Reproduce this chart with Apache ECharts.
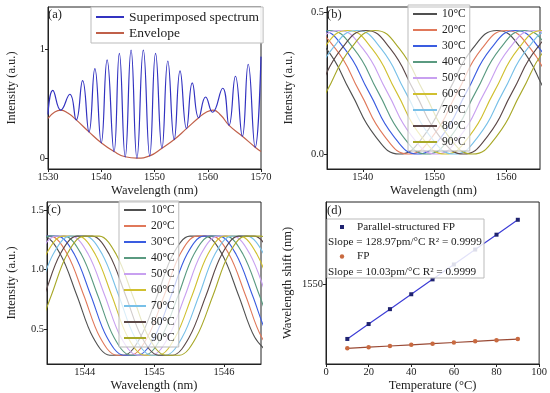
<!DOCTYPE html>
<html><head><meta charset="utf-8">
<script src="https://cdn.jsdelivr.net/npm/echarts@6/dist/echarts.min.js"></script>
<style>html,body{margin:0;padding:0;background:#fff}#c{width:550px;height:393px}</style>
</head><body><div id="c"></div>
<script>
const FONT = "'Liberation Serif','Times New Roman',serif";

// ---------- (a) superimposed spectrum & envelope: [wavelength nm, intensity a.u.]
const specA = [[1530.0,0.40],[1530.9,0.62],[1532.4,0.44],[1534.1,0.585],[1535.3,0.35],[1536.5,0.71],[1537.7,0.24],[1538.8,0.82],[1540.0,0.14],[1541.1,0.90],[1542.4,0.06],[1543.4,0.96],[1544.5,0.01],[1545.6,0.99],[1546.7,0.0],[1547.9,0.99],[1549.1,0.02],[1550.2,0.96],[1551.4,0.09],[1552.5,0.89],[1553.7,0.17],[1554.8,0.80],[1556.0,0.27],[1557.1,0.69],[1558.3,0.37],[1559.6,0.56],[1560.9,0.42],[1562.8,0.64],[1564.0,0.30],[1565.2,0.75],[1566.5,0.20],[1567.6,0.86],[1568.9,0.10],[1570.0,0.93]];
const envA = [[1530.0,0.365],[1531.2,0.42],[1532.4,0.44],[1533.8,0.41],[1535.3,0.35],[1537.7,0.24],[1540.0,0.14],[1542.4,0.06],[1544.5,0.012],[1546.7,0.0],[1549.1,0.02],[1551.4,0.09],[1553.7,0.17],[1556.0,0.27],[1558.3,0.37],[1559.7,0.42],[1561.0,0.44],[1562.5,0.39],[1564.0,0.30],[1566.5,0.20],[1568.9,0.10],[1570.0,0.06]];

// ---------- temperatures & colours
const tempNames = ['10°C','20°C','30°C','40°C','50°C','60°C','70°C','80°C','90°C'];
const tempColors = ['#505050','#e0785a','#3a5ce0','#5a9a80','#c8a0f0','#d0c030','#78c0e8','#5c4848','#a8a828'];

// ---------- (b) parallel-structured FP spectra (wavelengths per temperature, shared intensity levels)
const bIntensity = [0.064,0.218,0.371,0.435,0.371,0.218,0.064,0.0,0.064,0.218,0.371,0.435,0.371,0.218,0.064];
const bWl10 = [1521.30,1524.70,1528.10,1531.50,1534.90,1538.30,1541.70,1545.10,1548.50,1551.90,1555.30,1558.70,1562.10,1565.50,1568.90];
const bWl20 = [1522.58,1525.98,1529.38,1532.78,1536.18,1539.58,1542.98,1546.38,1549.78,1553.18,1556.58,1559.98,1563.38,1566.78,1570.18];
const bWl30 = [1523.85,1527.25,1530.65,1534.05,1537.45,1540.85,1544.25,1547.65,1551.05,1554.45,1557.85,1561.25,1564.65,1568.05,1571.45];
const bWl40 = [1525.13,1528.53,1531.93,1535.33,1538.73,1542.13,1545.53,1548.93,1552.33,1555.73,1559.13,1562.53,1565.93,1569.33,1572.73];
const bWl50 = [1526.40,1529.80,1533.20,1536.60,1540.00,1543.40,1546.80,1550.20,1553.60,1557.00,1560.40,1563.80,1567.20,1570.60,1574.00];
const bWl60 = [1527.68,1531.08,1534.48,1537.88,1541.28,1544.68,1548.08,1551.48,1554.88,1558.28,1561.68,1565.08,1568.48,1571.88,1575.28];
const bWl70 = [1528.95,1532.35,1535.75,1539.15,1542.55,1545.95,1549.35,1552.75,1556.15,1559.55,1562.95,1566.35,1569.75,1573.15,1576.55];
const bWl80 = [1530.23,1533.63,1537.03,1540.43,1543.83,1547.23,1550.63,1554.03,1557.43,1560.83,1564.23,1567.63,1571.03,1574.43,1577.83];
const bWl90 = [1531.50,1534.90,1538.30,1541.70,1545.10,1548.50,1551.90,1555.30,1558.70,1562.10,1565.50,1568.90,1572.30,1575.70,1579.10];

// ---------- (c) FP spectra
const cIntensity = [0.28,0.43,0.78,1.13,1.28,1.28,1.13,0.78,0.43,0.28,0.28,0.43,0.78,1.13,1.28,1.28,1.13,0.78,0.43,0.28];
const cWl10 = [1542.24,1542.48,1542.72,1542.95,1543.19,1543.41,1543.65,1543.89,1544.12,1544.36,1544.56,1544.80,1545.04,1545.27,1545.51,1545.73,1545.97,1546.21,1546.44,1546.68];
const cWl20 = [1542.34,1542.58,1542.82,1543.05,1543.29,1543.51,1543.75,1543.99,1544.22,1544.46,1544.66,1544.90,1545.14,1545.37,1545.61,1545.83,1546.07,1546.31,1546.54,1546.78];
const cWl30 = [1542.44,1542.68,1542.92,1543.15,1543.39,1543.61,1543.85,1544.09,1544.32,1544.56,1544.76,1545.00,1545.24,1545.47,1545.71,1545.93,1546.17,1546.41,1546.64,1546.88];
const cWl40 = [1542.54,1542.78,1543.02,1543.25,1543.49,1543.71,1543.95,1544.19,1544.42,1544.66,1544.86,1545.10,1545.34,1545.57,1545.81,1546.03,1546.27,1546.51,1546.74,1546.98];
const cWl50 = [1542.64,1542.88,1543.12,1543.35,1543.59,1543.81,1544.05,1544.29,1544.52,1544.76,1544.96,1545.20,1545.44,1545.67,1545.91,1546.13,1546.37,1546.61,1546.84,1547.08];
const cWl60 = [1542.74,1542.98,1543.22,1543.45,1543.69,1543.91,1544.15,1544.39,1544.62,1544.86,1545.06,1545.30,1545.54,1545.77,1546.01,1546.23,1546.47,1546.71,1546.94,1547.18];
const cWl70 = [1542.84,1543.08,1543.32,1543.55,1543.79,1544.01,1544.25,1544.49,1544.72,1544.96,1545.16,1545.40,1545.64,1545.87,1546.11,1546.33,1546.57,1546.81,1547.04,1547.28];
const cWl80 = [1542.94,1543.18,1543.42,1543.65,1543.89,1544.11,1544.35,1544.59,1544.82,1545.06,1545.26,1545.50,1545.74,1545.97,1546.21,1546.43,1546.67,1546.91,1547.14,1547.38];
const cWl90 = [1543.04,1543.28,1543.52,1543.75,1543.99,1544.21,1544.45,1544.69,1544.92,1545.16,1545.36,1545.60,1545.84,1546.07,1546.31,1546.53,1546.77,1547.01,1547.24,1547.48];

// ---------- (d) wavelength shift vs temperature
const dTemps = [10,20,30,40,50,60,70,80,90];
const dParallel = [1545.24,1546.53,1547.82,1549.11,1550.40,1551.69,1552.98,1554.27,1555.56];
const dFP = [1544.43,1544.53,1544.63,1544.73,1544.83,1544.93,1545.03,1545.13,1545.23];

// ---------- tick labels
const aXTicks = [1530,1540,1550,1560,1570], aYTicks = [0,1];
const bXTicks = [1540,1550,1560], bYTicks = [0,0.5];
const cXTicks = [1544,1545,1546], cYTicks = [0.5,1.0,1.5];
const dXTicks = [0,20,40,60,80,100], dYTicks = [1550];

const bWls = [bWl10,bWl20,bWl30,bWl40,bWl50,bWl60,bWl70,bWl80,bWl90];
const cWls = [cWl10,cWl20,cWl30,cWl40,cWl50,cWl60,cWl70,cWl80,cWl90];

function axis(gi, min, max, ticks, fmt, name, gap, extra) {
  return Object.assign({
    type: 'value', gridIndex: gi, min: min, max: max,
    name: name, nameLocation: 'middle', nameGap: gap,
    nameTextStyle: {color: '#222', fontSize: 12.5, fontFamily: FONT},
    axisLine: {show: true, onZero: false, lineStyle: {color: '#222', width: 1}},
    axisTick: {show: true, inside: false, length: 3, lineStyle: {color: '#222'}, customValues: ticks},
    axisLabel: {color: '#222', fontSize: 10.5, fontFamily: FONT, margin: 3, customValues: ticks, formatter: fmt},
    splitLine: {show: false}
  }, extra || {});
}
const fInt = v => String(Math.round(v));
const f1 = v => v.toFixed(1);

const grids = [
  {left: 48, top: 7, width: 213, height: 162},
  {left: 327, top: 7, width: 213, height: 162},
  {left: 47, top: 202, width: 214, height: 162},
  {left: 326, top: 202, width: 214, height: 162}
].map(g => Object.assign(g, {show: true, borderColor: '#222', borderWidth: 1, backgroundColor: 'transparent'}));

const series = [];
series.push({type: 'line', name: 'Superimposed spectrum', xAxisIndex: 0, yAxisIndex: 0, data: specA, smooth: 0.5, symbol: 'none',
  lineStyle: {color: '#3232c0', width: 1.2}, itemStyle: {color: '#3232c0'}, z: 3});
series.push({type: 'line', name: 'Envelope', xAxisIndex: 0, yAxisIndex: 0, data: envA, smooth: 0.5, symbol: 'none',
  lineStyle: {color: '#c0604a', width: 1.2}, itemStyle: {color: '#c0604a'}, z: 2});
tempNames.forEach((n, k) => {
  series.push({type: 'line', name: n, xAxisIndex: 1, yAxisIndex: 1, data: bWls[k].map((x, i) => [x, bIntensity[i]]),
    smooth: 0.5, symbol: 'none', lineStyle: {color: tempColors[k], width: 1.1}, itemStyle: {color: tempColors[k]}});
});
tempNames.forEach((n, k) => {
  series.push({type: 'line', name: n, xAxisIndex: 2, yAxisIndex: 2, data: cWls[k].map((x, i) => [x, cIntensity[i]]),
    smooth: 0.35, symbol: 'none', lineStyle: {color: tempColors[k], width: 1.1}, itemStyle: {color: tempColors[k]}});
});
series.push({type: 'line', name: 'fitP', xAxisIndex: 3, yAxisIndex: 3, data: dTemps.map((t, i) => [t, dParallel[i]]),
  symbol: 'rect', symbolSize: 4, lineStyle: {color: '#3d3dd6', width: 1.2}, itemStyle: {color: '#1f2370'}});
series.push({type: 'line', name: 'fitF', xAxisIndex: 3, yAxisIndex: 3, data: dTemps.map((t, i) => [t, dFP[i]]),
  symbol: 'circle', symbolSize: 4.5, lineStyle: {color: '#9a4a35', width: 1.2}, itemStyle: {color: '#c96a40'}});

const legendBase = {orient: 'vertical', padding: [3, 4], borderColor: '#bbb', borderWidth: 1,
  backgroundColor: 'rgba(255,255,255,0.72)', selectedMode: false, itemStyle: {opacity: 0}};
const legends = [
  Object.assign({}, legendBase, {left: 91, top: 7, itemWidth: 28, itemHeight: 14, itemGap: 2,
    data: ['Superimposed spectrum', 'Envelope'], backgroundColor: 'rgba(255,255,255,0.9)',
    textStyle: {fontSize: 13.5, fontFamily: FONT, color: '#222', lineHeight: 14}}),
  Object.assign({}, legendBase, {left: 408, top: 5, itemWidth: 24, itemHeight: 10, itemGap: 4,
    data: tempNames, textStyle: {fontSize: 11.5, fontFamily: FONT, color: '#222', lineHeight: 10}}),
  Object.assign({}, legendBase, {left: 119, top: 201, itemWidth: 22, itemHeight: 10, itemGap: 4,
    data: tempNames, textStyle: {fontSize: 11.5, fontFamily: FONT, color: '#222', lineHeight: 10}})
];

const txt = (x, y, s, size, extra) => Object.assign({type: 'text', x: x, y: y, z: 20,
  style: {text: s, fill: '#222', font: size + 'px ' + FONT, textVerticalAlign: 'middle', textAlign: 'left'}}, extra || {});

const graphic = [
  txt(48, 15, '(a)', 12.5), txt(327, 15, '(b)', 12.5), txt(47, 210, '(c)', 12.5), txt(327, 211, '(d)', 12.5),
  {type: 'rect', z: 15, shape: {x: 327, y: 219, width: 157, height: 59}, style: {fill: 'rgba(255,255,255,0.85)', stroke: '#bbb', lineWidth: 1}},
  {type: 'rect', z: 20, shape: {x: 340, y: 225, width: 4, height: 4}, style: {fill: '#1f2370'}},
  txt(357, 227, 'Parallel-structured FP', 11.2),
  txt(328, 242.5, 'Slope = 128.97pm/°C R² = 0.9999', 11.2),
  {type: 'circle', z: 20, shape: {cx: 342, cy: 256.5, r: 2.2}, style: {fill: '#c96a40'}},
  txt(357, 256.5, 'FP', 11.2),
  txt(328, 272, 'Slope = 10.03pm/°C R² = 0.9999', 11.2)
];

const option = {
  animation: false,
  backgroundColor: '#fff',
  grid: grids,
  xAxis: [
    axis(0, 1530, 1570, aXTicks, fInt, 'Wavelength (nm)', 12, {interval: 10}),
    axis(1, 1535, 1564.7, bXTicks, fInt, 'Wavelength (nm)', 12),
    axis(2, 1543.46, 1546.53, cXTicks, fInt, 'Wavelength (nm)', 12),
    axis(3, 0, 100, dXTicks, fInt, 'Temperature (°C)', 12, {interval: 20})
  ],
  yAxis: [
    axis(0, -0.1, 1.385, aYTicks, fInt, 'Intensity (a.u.)', 29.5),
    axis(1, -0.053, 0.518, bYTicks, f1, 'Intensity (a.u.)', 31.5),
    axis(2, 0.206, 1.567, cYTicks, f1, 'Intensity (a.u.)', 28.5),
    axis(3, 1543.07, 1557.1, dYTicks, fInt, 'Wavelength shift (nm)', 31.5)
  ],
  legend: legends,
  series: series,
  graphic: graphic
};
const chart = echarts.init(document.getElementById('c'), null, {renderer: 'canvas'});
chart.setOption(option);
</script></body></html>
